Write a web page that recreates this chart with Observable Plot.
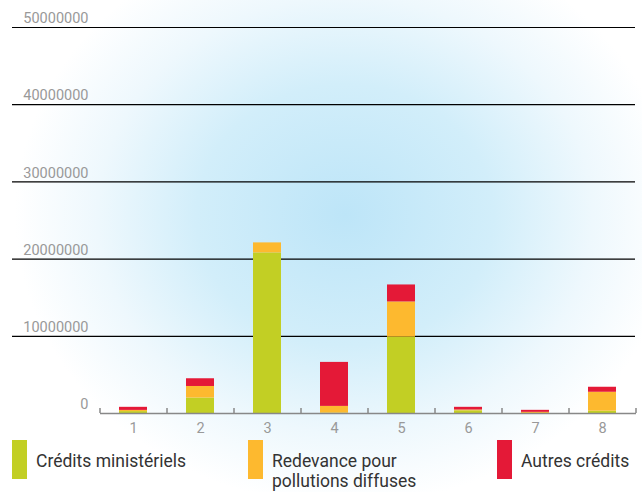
<!DOCTYPE html>
<html>
<head>
<meta charset="utf-8">
<script src="https://cdn.jsdelivr.net/npm/d3@7"></script>
<script src="https://cdn.jsdelivr.net/npm/@observablehq/plot@0.6"></script>
<style>
  html, body { margin: 0; padding: 0; }
  body { width: 642px; height: 492px; overflow: hidden; font-family: Roboto, "Noto Sans", sans-serif; }
  #wrap {
    position: relative; width: 642px; height: 492px;
    background: radial-gradient(ellipse 330px 290px at 345px 215px, #bde5f8 0%, #d2eefa 45%, #eef8fd 75%, #ffffff 100%);
  }
  #chart svg { display: block; background: transparent !important; }
  .legend { position: absolute; top: 440px; left: 0; width: 642px; height: 52px; }
  .item { position: absolute; top: 0; }
  .sw { position: absolute; top: 0; width: 15px; height: 39px; }
  .lb { position: absolute; top: 11px; left: 24px; font-size: 17.5px; line-height: 20px; color: #333; white-space: nowrap; }
</style>
</head>
<body>
<div id="wrap">
  <div id="chart"></div>
  <div class="legend" id="legend"></div>
</div>
<script>
const categories = ["1", "2", "3", "4", "5", "6", "7", "8"];
const seriesNames = ["Crédits ministériels", "Redevance pour pollutions diffuses", "Autres crédits"];
const legendLabels = ["Crédits ministériels", "Redevance pour<br>pollutions diffuses", "Autres crédits"];
const seriesColors = ["#c2cf24", "#fdb92f", "#e41937"];
const creditsMinisteriels = [250000, 2000000, 20800000, 50000, 9900000, 350000, 0, 300000];
const redevance = [150000, 1500000, 1300000, 870000, 4550000, 100000, 150000, 2450000];
const autresCredits = [400000, 1000000, 0, 5700000, 2200000, 350000, 260000, 650000];
const yTicks = [0, 10000000, 20000000, 30000000, 40000000, 50000000];

const allSeries = [creditsMinisteriels, redevance, autresCredits];
const data = [];
seriesNames.forEach((s, si) => {
  categories.forEach((c, ci) => data.push({cat: c, series: s, value: allSeries[si][ci]}));
});

const W = 642, H = 436, mL = 100, mR = 6, mT = 27, mB = 23;
const step = (W - mL - mR) / categories.length;

const chart = Plot.plot({
  width: W, height: H,
  marginLeft: mL, marginRight: mR, marginTop: mT, marginBottom: mB,
  style: {background: "transparent", fontFamily: "Roboto, sans-serif"},
  x: {domain: categories, paddingInner: 0.58, paddingOuter: 0.29, label: null},
  y: {domain: [0, 50000000], label: null},
  color: {domain: seriesNames, range: seriesColors},
  marks: [
    Plot.ruleY(yTicks.filter(d => d > 0), {stroke: "#000", strokeWidth: 1.2, insetLeft: -88, insetRight: 1}),
    Plot.barY(data, Plot.stackY({order: seriesNames}, {x: "cat", y: "value", fill: "series"})),
    Plot.ruleY([0], {stroke: "#888", strokeWidth: 1.5}),
    Plot.ruleX(categories, {x: d => d, dx: -step / 2, stroke: "#888", strokeWidth: 1.5, insetTop: H - mT - mB - 5}),
    Plot.ruleX([categories[categories.length - 1]], {x: d => d, dx: step / 2, stroke: "#888", strokeWidth: 1.5, insetTop: H - mT - mB - 5}),
    Plot.axisY(yTicks, {tickSize: 0, tickPadding: 12, dy: -9, fontSize: 14.5, fill: "#999", tickFormat: d => String(d), label: null}),
    Plot.axisX({tickSize: 0, tickPadding: 9, fontSize: 14.5, fill: "#999", label: null})
  ]
});
document.getElementById("chart").appendChild(chart);

const legend = document.getElementById("legend");
const xs = [12, 248, 497];
legendLabels.forEach((l, i) => {
  const it = document.createElement("div");
  it.className = "item";
  it.style.left = xs[i] + "px";
  it.innerHTML = `<div class="sw" style="background:${seriesColors[i]}"></div><div class="lb">${l}</div>`;
  legend.appendChild(it);
});
</script>
</body>
</html>
